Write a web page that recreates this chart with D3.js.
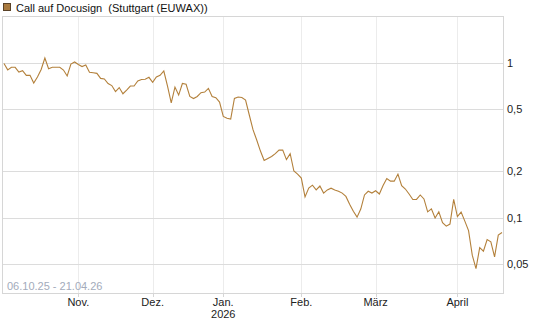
<!DOCTYPE html>
<html>
<head>
<meta charset="utf-8">
<script src="https://cdn.jsdelivr.net/npm/d3@7"></script>
<style>
  body { margin: 0; background: #fff; }
  svg { display: block; font-family: "Liberation Sans", Arial, sans-serif; }
</style>
</head>
<body>
<div id="chart"></div>
<script>
// Call auf Docusign, one value per trading day 06.10.25 – 21.04.26
const values = [
  0.99, 0.90, 0.935, 0.935, 0.872, 0.889, 0.83, 0.83, 0.74, 0.81,
  0.905, 1.074, 0.916, 0.935, 0.935, 0.935, 0.898, 0.822, 0.982, 1.012,
  0.975, 0.945, 0.968, 0.868, 0.862, 0.855, 0.793, 0.786, 0.735, 0.713,
  0.652, 0.692, 0.631, 0.667, 0.708, 0.708, 0.763, 0.78, 0.783, 0.806,
  0.748, 0.81, 0.83, 0.885, 0.708, 0.55, 0.697, 0.619, 0.735, 0.726,
  0.606, 0.588, 0.606, 0.641, 0.647, 0.684, 0.606, 0.595, 0.558, 0.45,
  0.438, 0.433, 0.588, 0.601, 0.597, 0.575, 0.46, 0.37, 0.317, 0.269,
  0.234, 0.241, 0.248, 0.259, 0.273, 0.273, 0.237, 0.259, 0.2, 0.191,
  0.18, 0.136, 0.155, 0.162, 0.151, 0.16, 0.144, 0.151, 0.155, 0.151,
  0.148, 0.144, 0.137, 0.122, 0.11, 0.1007, 0.1135, 0.14, 0.148, 0.144,
  0.149, 0.142, 0.161, 0.179, 0.172, 0.172, 0.191, 0.161, 0.153, 0.142,
  0.131, 0.131, 0.14, 0.132, 0.109, 0.114, 0.0993, 0.109, 0.0928, 0.0881,
  0.0908, 0.131, 0.1015, 0.1085, 0.0949, 0.0824, 0.0572, 0.0468, 0.064, 0.0607,
  0.0721, 0.0698, 0.0558, 0.0771, 0.0802
];
// index of first trading day of each month
const monthTicks  = [20, 40, 59, 80, 100, 122];
const monthLabels = ['Nov.', 'Dez.', 'Jan.', 'Feb.', 'März', 'April'];
const yearLabels  = ['', '', '2026', '', '', ''];
const yTicks      = [1, 0.5, 0.2, 0.1, 0.05];
const yTickLabels = ['1', '0,5', '0,2', '0,1', '0,05'];
const title = 'Call auf Docusign  (Stuttgart (EUWAX))';
const rangeLabel = '06.10.25 - 21.04.26';

const W = 545, H = 327;
const p = { left: 2.5, top: 16.5, right: 503.5, bottom: 293 };
const lineColor = '#b3803b';

const svg = d3.select('#chart').append('svg').attr('width', W).attr('height', H);

const x = d3.scaleLinear().domain([0, values.length - 1]).range([4, 502]);
const y = d3.scaleLog().domain([1, 0.05]).range([62.8, 264.2]);

// Grid
svg.append('g').selectAll('line').data(monthTicks).join('line')
  .attr('x1', d => Math.round(x(d)) + .5).attr('x2', d => Math.round(x(d)) + .5)
  .attr('y1', p.top).attr('y2', p.bottom)
  .attr('stroke', '#ececec');
svg.append('g').selectAll('line').data(yTicks).join('line')
  .attr('x1', p.left).attr('x2', p.right)
  .attr('y1', d => Math.round(y(d)) + .5).attr('y2', d => Math.round(y(d)) + .5)
  .attr('stroke', '#dcdcdc');

// Frame
svg.append('rect')
  .attr('x', p.left).attr('y', p.top)
  .attr('width', p.right - p.left).attr('height', p.bottom - p.top + .5)
  .attr('fill', 'none').attr('stroke', '#d6d6d6');

// x ticks below frame
svg.append('g').selectAll('line').data(monthTicks).join('line')
  .attr('x1', d => Math.round(x(d)) + .5).attr('x2', d => Math.round(x(d)) + .5)
  .attr('y1', p.bottom).attr('y2', p.bottom + 4)
  .attr('stroke', '#d6d6d6');

// Line
svg.append('path')
  .datum(values)
  .attr('d', d3.line().x((d, i) => x(i)).y(d => y(d)))
  .attr('fill', 'none')
  .attr('stroke', lineColor)
  .attr('stroke-width', 1.1);

// Y labels (right)
svg.append('g').selectAll('text').data(yTicks).join('text')
  .attr('x', 507).attr('y', d => y(d) + 4)
  .attr('font-size', 11).attr('fill', '#222')
  .text((d, i) => yTickLabels[i]);

// Month labels
svg.append('g').selectAll('text').data(monthTicks).join('text')
  .attr('x', d => x(d)).attr('y', 305.5)
  .attr('text-anchor', 'middle').attr('font-size', 11).attr('fill', '#222')
  .text((d, i) => monthLabels[i]);
svg.append('g').selectAll('text').data(monthTicks).join('text')
  .attr('x', d => x(d)).attr('y', 318)
  .attr('text-anchor', 'middle').attr('font-size', 11).attr('fill', '#222')
  .text((d, i) => yearLabels[i]);

// Date range
svg.append('text').attr('x', 7).attr('y', 289.5)
  .attr('font-size', 11).attr('fill', '#a3abbb').text(rangeLabel);

// Title / legend
svg.append('rect').attr('x', 3.5).attr('y', 3.5).attr('width', 7).attr('height', 7)
  .attr('fill', '#a97a3f').attr('stroke', '#5a4228');
svg.append('text').attr('x', 16).attr('y', 11.5)
  .style('white-space', 'pre')
  .attr('font-size', 11).attr('fill', '#111').text(title);
</script>
</body>
</html>
